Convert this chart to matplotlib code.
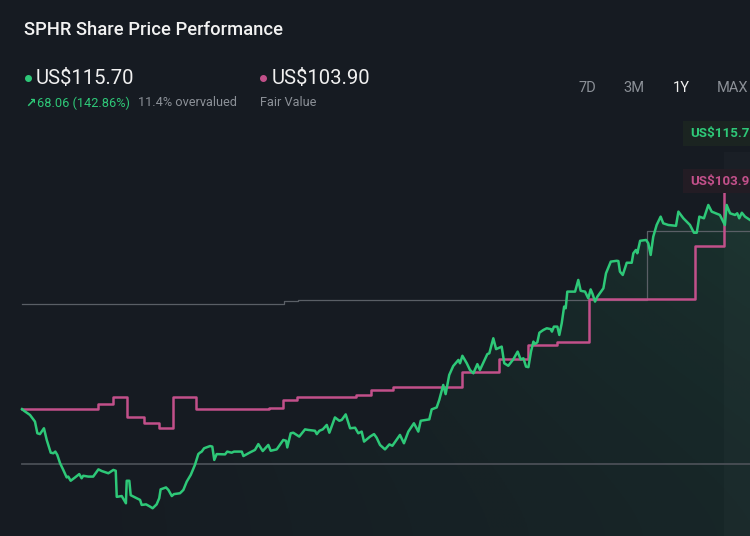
import matplotlib
matplotlib.use("Agg")
import matplotlib.pyplot as plt
import numpy as np
from matplotlib.lines import Line2D
from matplotlib.patches import Rectangle

# ---- data (days since start, price in US$) ----
price_days = [0, 1, 4, 6.5, 7.7, 9, 11, 12.4, 14.4, 15.7, 16.7, 17.7, 19.1, 20.7, 22.4, 23.2,
              24.4, 26.6, 28.7, 29.9, 30.7, 33.2, 35.7, 38.3, 40.0, 43.3, 45.8, 47.0, 47.5, 50.0,
              51.1, 52.1, 52.5, 53.8, 54.5, 56.7, 59.2, 60.0, 62.2, 64.2, 65.5, 67.5, 68.8, 69.5,
              72.2, 73.4, 75.1, 76.2, 79.2, 80.9, 82.6, 84.6, 86.7, 88.4, 89.2, 90.1, 91.3, 94.3,
              95.4, 96.4, 97.6, 101.8, 102.9, 105.1, 106.3, 110.2, 111.0, 114.3, 116.8, 118.5,
              120.7, 123.5, 124.7, 127.7, 131.0, 132.4, 133.0, 134.7, 136.0, 139.0, 141.9, 143.5,
              146.9, 147.8, 149.1, 150.8, 152.8, 154.1, 156.9, 159.1, 160.3, 162.3, 164.5, 167.0,
              168.6, 170.3, 171.5, 174.5, 176.5, 177.8, 179.5, 182.0, 184.2, 185.7, 189.5, 191.5,
              193.7, 196.5, 198.7, 199.9, 204.2, 205.4, 207.9, 209.2, 211.2, 212.4, 214.2, 216.2,
              218.8, 219.6, 220.8, 223.0, 224.6, 226.3, 228.3, 229.6, 233.3, 234.3, 236.3, 237.7,
              240.5, 241.8, 243.8, 246.3, 248.5, 250.0, 251.4, 252.7, 253.9, 255.2, 256.4, 257.2,
              258.4, 259.4, 261.4, 263.1, 265.1, 265.7, 266.7, 268.4, 269.4, 270.6, 271.8, 272.6,
              273.4, 277.3, 278.9, 280.1, 282.3, 283.9, 285.1, 286.1, 287.3, 288.5, 291.5, 292.8,
              295.2, 298.2, 299.0, 299.8, 301.2, 303.2, 305.7, 306.5, 307.8, 308.5, 309.9, 312.9,
              314.0, 315.2, 316.5, 318.2, 320.2, 321.5, 324.0, 327.9, 329.1, 331.6, 334.9, 336.9,
              338.3, 339.6, 341.9, 344.1, 345.8, 349.9, 352.4, 353.3, 355.0, 357.5, 358.6, 359.6,
              360.9, 362.5, 365]
price = [47.6, 47.0, 45.5, 43.1, 38.9, 38.6, 40.7, 36.5, 31.9, 31.7, 32.3, 31.1, 28.1, 25.7, 23.0,
         23.3, 21.8, 23.0, 24.2, 22.7, 23.6, 23.3, 23.3, 25.9, 25.3, 24.5, 25.7, 25.4, 16.0, 16.3,
         14.9, 13.7, 21.8, 21.8, 16.6, 15.8, 14.9, 13.1, 13.3, 12.5, 11.9, 13.3, 15.5, 18.7, 19.4,
         18.5, 16.3, 17.0, 17.3, 18.5, 21.5, 23.9, 27.5, 31.4, 31.9, 32.3, 33.5, 34.3, 34.1, 29.3,
         31.4, 31.3, 32.3, 31.9, 32.3, 32.3, 30.7, 32.0, 32.9, 35.0, 32.5, 34.7, 32.6, 33.1, 36.5,
         36.2, 33.8, 38.9, 39.1, 37.7, 40.3, 40.1, 39.8, 38.6, 39.8, 40.3, 41.9, 39.1, 44.6, 43.4,
         43.7, 45.7, 40.7, 40.9, 38.9, 39.5, 35.9, 37.7, 38.6, 37.3, 34.7, 33.1, 34.9, 34.4, 38.3,
         35.3, 39.5, 42.5, 39.5, 43.4, 43.9, 47.5, 48.2, 50.9, 56.3, 53.0, 59.9, 63.1, 65.3, 64.1,
         66.8, 64.1, 61.7, 60.5, 63.8, 61.7, 67.4, 67.7, 73.1, 69.2, 70.1, 64.1, 63.2, 65.5, 68.3,
         65.5, 65.9, 62.9, 62.7, 68.3, 71.9, 71.0, 71.7, 75.1, 76.1, 76.7, 76.4, 75.5, 77.3, 77.3,
         74.3, 78.5, 84.5, 83.9, 89.9, 89.9, 94.1, 90.2, 89.9, 87.5, 90.7, 89.0, 86.3, 88.1, 91.1,
         96.5, 100.7, 101.0, 100.9, 97.1, 95.9, 100.3, 100.3, 103.7, 104.9, 103.7, 108.2, 108.5,
         107.3, 103.1, 109.7, 113.9, 116.9, 114.5, 113.9, 113.6, 118.7, 116.3, 113.9, 111.1,
         111.1, 116.9, 116.3, 121.1, 118.7, 117.5, 113.9, 121.1, 118.1, 117.5, 118.1, 116.3,
         118.3, 116.9, 115.7]

fair_days = [0, 38.3, 45.8, 52.8, 61.2, 68.7, 75.9, 87.2, 123.8, 131.0, 138.0, 152.8, 167.5,
             174.8, 186.2, 220.8, 239.3, 253.7, 268.4, 284.1, 337.4, 352.1]
fair_value = [47.6, 49.4, 52.1, 44.6, 42.7, 40.9, 52.0, 47.5, 48.1, 50.9, 51.8, 52.1, 52.5,
              54.5, 55.7, 61.1, 65.5, 70.7, 71.9, 87.1, 106.4, 125.8]

target_days = [0, 131.4, 138.4, 313.2, 365]
target_value = [85.5, 86.5, 86.9, 111.9, 111.9]

baseline_value = 27.8

periods = ["7D", "3M", "1Y", "MAX"]

# ---- style ----
BG = "#161b22"
GREEN = "#2ec878"
PINK = "#c2508a"
GREY = "#5a5f66"
TXT_GREY = "#8b9097"
plt.rcParams["font.family"] = ["Roboto", "DejaVu Sans"]

W, H = 750, 536
fig = plt.figure(figsize=(7.5, 5.36), dpi=100, facecolor=BG)
ax = fig.add_axes([0, 0, 1, 1])
ax.set_facecolor(BG)
x0, x1 = -11.03, 365.0
y0, y1 = 1.91, 194.9
ax.set_xlim(x0, x1)
ax.set_ylim(y0, y1)
ax.axis("off")

# gradient fill under the price line
poly = ax.fill_between(price_days, price, y0, color="none", lw=0)
xs = np.linspace(0, 1, 300)
ys = np.linspace(0, 1, 200)
XX, YY = np.meshgrid(xs, ys)
alpha = 0.20 * np.clip((XX - 0.03) / 0.97, 0, 1) ** 1.1 * (0.35 + 0.65 * YY ** 1.5)
rgba = np.zeros((200, 300, 4))
rgba[..., 0] = 0x2e / 255
rgba[..., 1] = 0xc8 / 255
rgba[..., 2] = 0x78 / 255
rgba[..., 3] = alpha
img = ax.imshow(rgba, extent=[x0, x1, y0, y1], origin="lower", aspect="auto", zorder=1)
img.set_clip_path(poly.get_paths()[0], transform=ax.transData)

# faint shaded strip right of the last fair value update
ax.axvspan(fair_days[-1], x1, ymin=0, ymax=(140 - y0) / (y1 - y0), color="white", alpha=0.02, lw=0, zorder=1)

# reference lines
ax.plot([0, 365], [baseline_value, baseline_value], color="#4a4f56", lw=1.3, zorder=2)
ax.step(target_days, target_value, where="post", color=GREY, lw=0.9, zorder=2)

ax.step(fair_days, fair_value, where="post", color=PINK, lw=1.8, zorder=3)
ax.plot(price_days, price, color=GREEN, lw=1.8, zorder=4, solid_joinstyle="round")


def fx(px):
    return px / W


def fy(py):
    return 1 - py / H


# header texts
fig.text(fx(24), fy(30), "SPHR Share Price Performance", color="#f2f2f2", fontsize=13.2,
         fontweight="medium", va="center", ha="left")

fig.add_artist(Line2D([fx(28)], [fy(78)], marker="o", ms=4, color=GREEN, transform=fig.transFigure))
fig.text(fx(36), fy(78), "US$115.70", color="#f0f0f0", fontsize=14.6, va="center", ha="left")
fig.text(fx(25), fy(103), "↗", color=GREEN, fontsize=9, va="center", ha="left",
         fontweight="bold", family=["DejaVu Sans"])
fig.text(fx(37), fy(103), "68.06 (142.86%)", color=GREEN, fontsize=9.2, va="center", ha="left")
fig.text(fx(138), fy(103), "11.4% overvalued", color=TXT_GREY, fontsize=9.2, va="center", ha="left")

fig.add_artist(Line2D([fx(263)], [fy(78)], marker="o", ms=4, color=PINK, transform=fig.transFigure))
fig.text(fx(272), fy(78), "US$103.90", color="#f0f0f0", fontsize=14.6, va="center", ha="left")
fig.text(fx(260), fy(103), "Fair Value", color=TXT_GREY, fontsize=9.2, va="center", ha="left")

period_x = [587, 634, 681, 733]
for lab, px in zip(periods, period_x):
    fig.text(fx(px), fy(88), lab, color="#f0f0f0" if lab == "1Y" else TXT_GREY,
             fontsize=10.5, va="center", ha="center")

# value labels at right edge
fig.add_artist(Rectangle((fx(683), fy(146)), fx(70), 25 / H, transform=fig.transFigure,
                         color="#1b2421", lw=0))
fig.text(fx(690), fy(133), "US$115.7", color=GREEN, fontsize=9.6, fontweight="bold",
         va="center", ha="left")
fig.add_artist(Rectangle((fx(683), fy(193)), fx(70), 24 / H, transform=fig.transFigure,
                         color="#231c24", lw=0))
fig.text(fx(690), fy(181), "US$103.9", color=PINK, fontsize=9.6, fontweight="bold",
         va="center", ha="left")

fig.savefig("out.png", dpi=100, facecolor=BG)
